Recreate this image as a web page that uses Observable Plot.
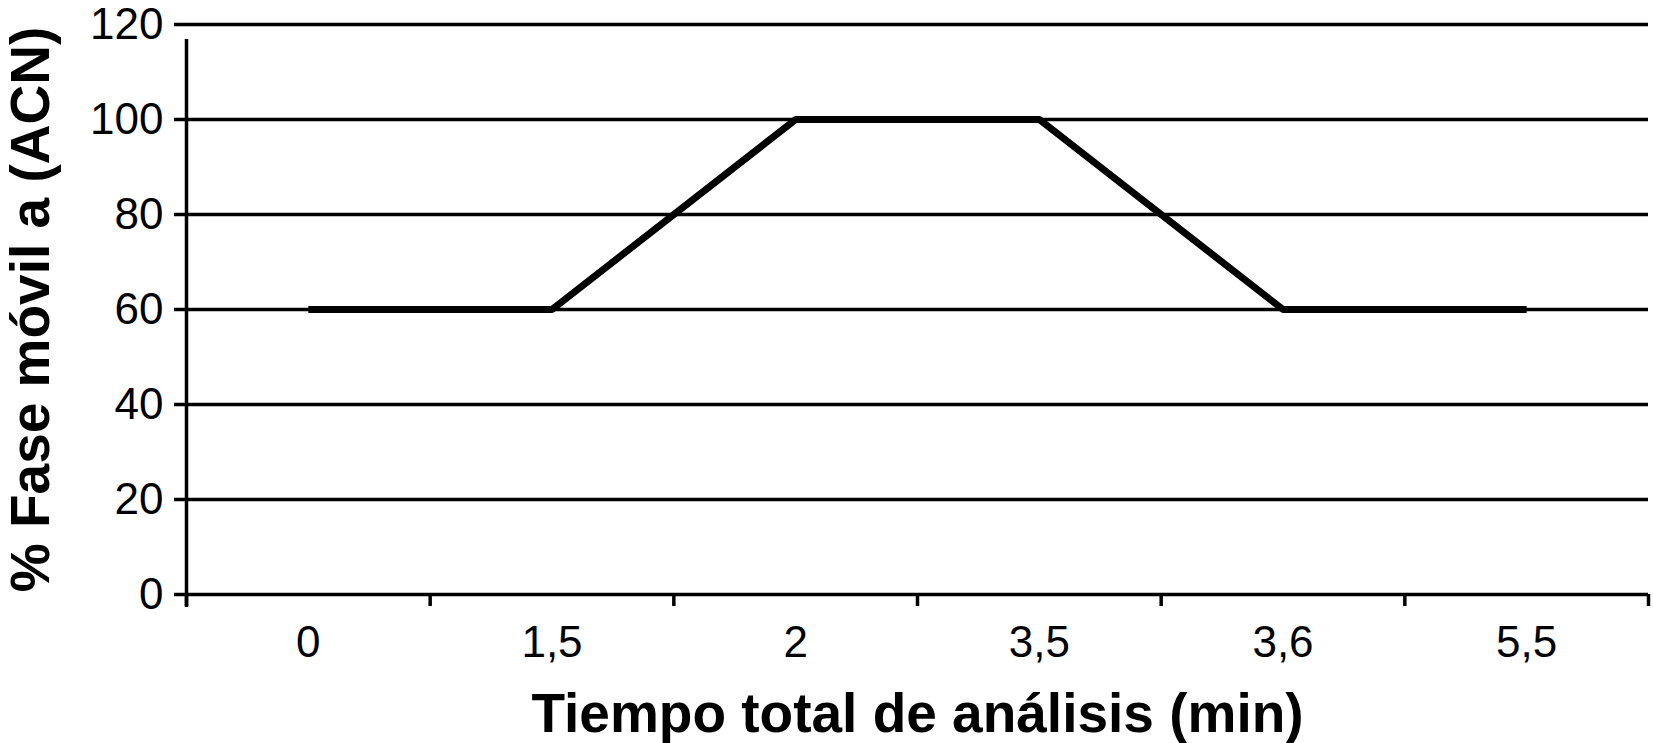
<!DOCTYPE html>
<html>
<head>
<meta charset="utf-8">
<script src="https://cdn.jsdelivr.net/npm/d3@7"></script>
<script src="https://cdn.jsdelivr.net/npm/@observablehq/plot@0.6"></script>
<style>
  html, body { margin: 0; padding: 0; background: #fff; }
  #chart svg { display: block; overflow: visible; }
</style>
</head>
<body>
<div id="chart"></div>
<script>
// Data
const tiempos = ["0", "1,5", "2", "3,5", "3,6", "5,5"];        // x categories (min)
const faseMovil = [60, 60, 100, 100, 60, 60];                    // % fase móvil a (ACN)
const yTicks = [0, 20, 40, 60, 80, 100, 120];
const xTitle = "Tiempo total de análisis (min)";
const yTitle = "% Fase móvil a (ACN)";

const data = tiempos.map((t, i) => ({i, t, v: faseMovil[i]}));
const idx = tiempos.map((_, i) => i);
const bounds = d3.range(tiempos.length + 1).map(k => k - 0.5);

const font = "'Liberation Sans', Arial, sans-serif";

const chart = Plot.plot({
  width: 1653,
  height: 743,
  marginLeft: 186,
  marginRight: 5,
  marginTop: 24,
  marginBottom: 149,
  style: {background: "#fff", color: "#000", fontFamily: font},
  x: {type: "linear", domain: [-0.5, tiempos.length - 0.5]},
  y: {domain: [0, 120]},
  marks: [
    Plot.ruleY(yTicks, {stroke: "#000", strokeWidth: 3.5}),
    Plot.ruleX([-0.5], {stroke: "#000", strokeWidth: 3.5, insetTop: 15, insetBottom: -13}),
    Plot.axisY({ticks: yTicks, tickSize: 12, tickPadding: 11, fontSize: 44, strokeWidth: 3.5, label: null}),
    Plot.axisX({ticks: bounds, tickSize: 12, tickFormat: () => "", strokeWidth: 3.5, label: null}),
    Plot.axisX({ticks: idx, tickSize: 0, tickPadding: 31, fontSize: 44, tickFormat: i => tiempos[i], label: null}),
    Plot.line(data, {x: "i", y: "v", stroke: "#000", strokeWidth: 7, strokeLinejoin: "miter", strokeLinecap: "butt"}),
    Plot.text([xTitle], {frameAnchor: "bottom", textAnchor: "middle", dy: 137, lineAnchor: "bottom", fontSize: 55, fontWeight: "bold", fill: "#000"}),
    Plot.text([yTitle], {frameAnchor: "left", textAnchor: "middle", dx: -138, lineAnchor: "bottom", rotate: -90, fontSize: 55, fontWeight: "bold", fill: "#000"})
  ]
});
document.getElementById("chart").appendChild(chart);
</script>
</body>
</html>
